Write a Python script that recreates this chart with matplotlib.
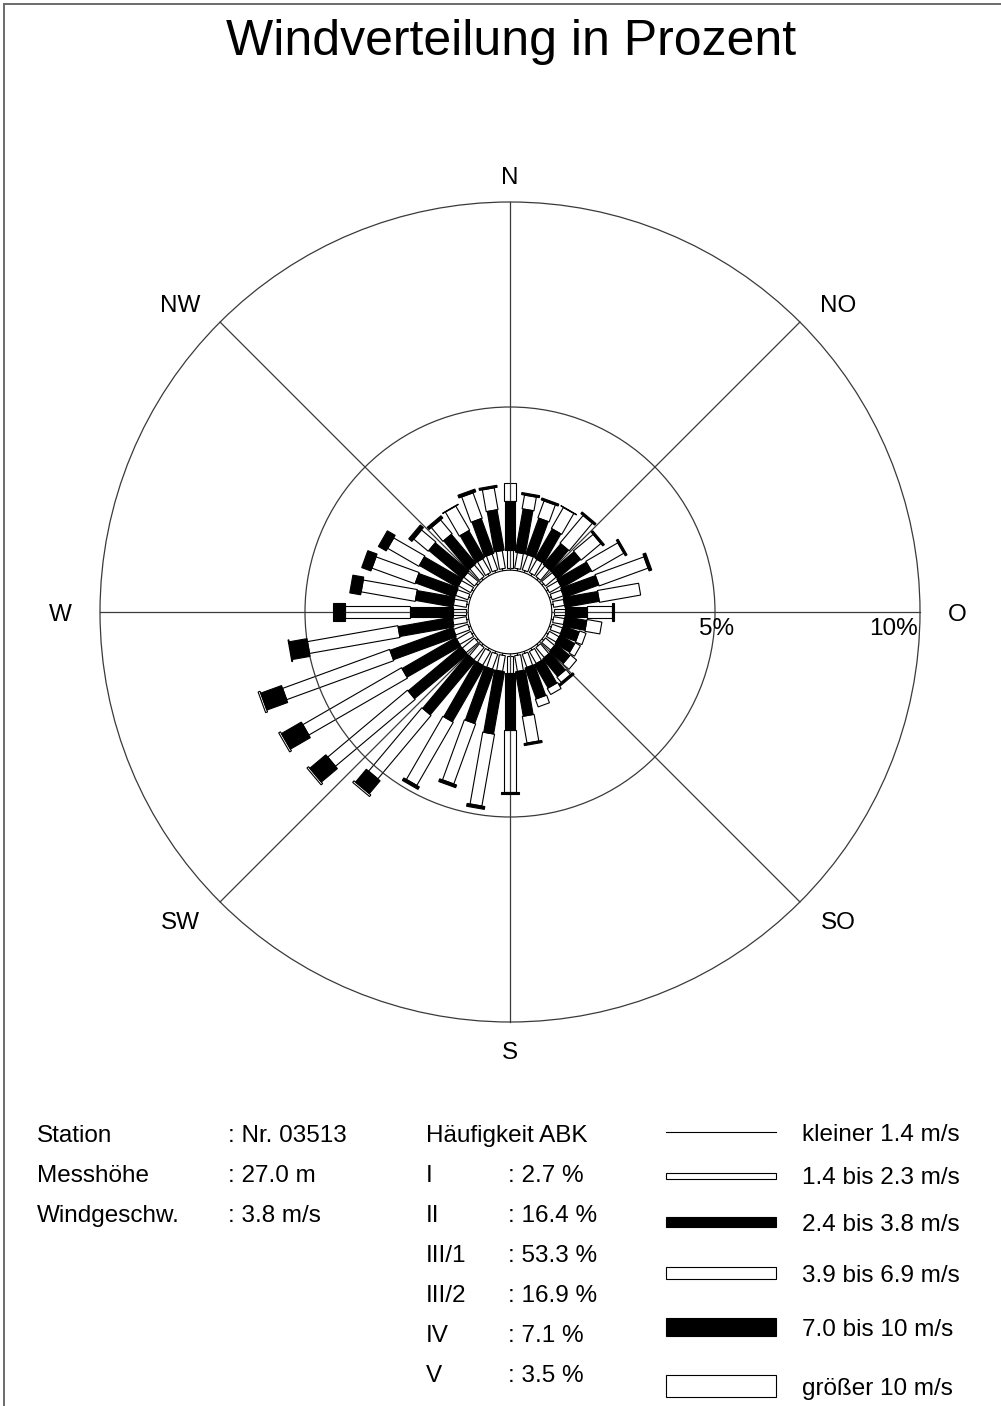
import matplotlib
matplotlib.use("Agg")
import matplotlib.pyplot as plt
from matplotlib.patches import Polygon, Circle, Rectangle
from matplotlib.lines import Line2D
import numpy as np

plt.rcParams['font.family'] = ['Liberation Sans', 'DejaVu Sans']

# ---------------------------------------------------------------- data
directions = list(range(0, 360, 10))          # degrees, clockwise from north
calm_pct = 1.02                               # radius of the calm circle (%)

# frequency (%) per direction and wind-speed class
speed_lt_1_4 = [0.05, 0.05, 0.05, 0.05, 0.05, 0.05, 0.05, 0.05, 0.05,
                0.05, 0.05, 0.05, 0.05, 0.05, 0.05, 0.05, 0.05, 0.05,
                0.05, 0.05, 0.05, 0.05, 0.05, 0.05, 0.05, 0.05, 0.05,
                0.05, 0.05, 0.05, 0.05, 0.05, 0.05, 0.05, 0.05, 0.05]
speed_1_4_2_3 = [0.44, 0.39, 0.39, 0.37, 0.34, 0.34, 0.32, 0.29, 0.27,
                 0.27, 0.27, 0.27, 0.27, 0.29, 0.32, 0.34, 0.34, 0.39,
                 0.41, 0.39, 0.39, 0.39, 0.39, 0.39, 0.39, 0.37, 0.34,
                 0.32, 0.32, 0.32, 0.34, 0.34, 0.37, 0.39, 0.41, 0.44]
speed_2_4_3_8 = [1.20, 1.07, 0.93, 0.83, 0.66, 0.73, 0.83, 0.90, 0.85,
                 0.54, 0.54, 0.41, 0.41, 0.44, 0.56, 0.66, 0.80, 1.10,
                 1.39, 1.54, 1.39, 1.56, 1.71, 1.68, 1.51, 1.63, 1.34,
                 1.05, 0.93, 1.02, 1.07, 1.07, 0.93, 0.76, 0.90, 1.00]
speed_3_9_6_9 = [0.44, 0.34, 0.44, 0.59, 0.88, 0.63, 0.90, 1.27, 1.02,
                 0.61, 0.37, 0.17, 0.15, 0.20, 0.17, 0.17, 0.20, 0.66,
                 1.51, 1.78, 1.56, 1.78, 2.02, 2.54, 2.78, 2.78, 2.24,
                 1.59, 1.34, 1.12, 0.88, 0.46, 0.44, 0.68, 0.66, 0.54]
speed_7_0_10 = [0.00, 0.05, 0.05, 0.01, 0.05, 0.05, 0.05, 0.07, 0.00,
                0.05, 0.00, 0.00, 0.00, 0.00, 0.05, 0.00, 0.00, 0.05,
                0.05, 0.07, 0.07, 0.07, 0.41, 0.51, 0.56, 0.54, 0.44,
                0.29, 0.27, 0.24, 0.22, 0.10, 0.07, 0.01, 0.07, 0.05]
speed_gt_10 = [0.00, 0.00, 0.00, 0.00, 0.00, 0.00, 0.00, 0.00, 0.00,
               0.00, 0.00, 0.00, 0.00, 0.00, 0.00, 0.00, 0.00, 0.00,
               0.00, 0.00, 0.00, 0.00, 0.05, 0.05, 0.05, 0.05, 0.02,
               0.00, 0.00, 0.00, 0.00, 0.00, 0.00, 0.00, 0.00, 0.00]

speed_classes = ["kleiner 1.4 m/s", "1.4 bis 2.3 m/s", "2.4 bis 3.8 m/s",
                 "3.9 bis 6.9 m/s", "7.0 bis 10 m/s", "größer 10 m/s"]
ring_values = [5, 10]
compass_labels = ["N", "NO", "O", "SO", "S", "SW", "W", "NW"]

station_keys = ["Station", "Messhöhe", "Windgeschw."]
station_values = [": Nr. 03513", ": 27.0 m", ": 3.8 m/s"]
abk_classes = ["I", "II", "III/1", "III/2", "IV", "V"]
abk_values = [2.7, 16.4, 53.3, 16.9, 7.1, 3.5]

# ---------------------------------------------------------------- figure
W, H = 1001, 1406
fig = plt.figure(figsize=(W / 100, H / 100), dpi=100)
fig.patch.set_facecolor("white")

PX = 41.0                 # pixels per percent
CX, CY = 510, 612         # rose centre in pixels
HALF = 490                # half size of rose axes in pixels
ax = fig.add_axes([(CX - HALF) / W, (H - CY - HALF) / H, 2 * HALF / W, 2 * HALF / H])
ax.set_xlim(-HALF / PX, HALF / PX)
ax.set_ylim(-HALF / PX, HALF / PX)
ax.set_aspect("equal")
ax.axis("off")

# bar widths (pixels) and fills for the speed classes
seg_width_px = [1, 6, 10, 12, 18, 22]
seg_fill = [None, "white", "black", "white", "black", "white"]
seg_z = [3, 2, 4, 2, 4, 2]
EDGE_LW = 0.8


def radial_box(theta_deg, r0, r1, width, face, z):
    t = np.deg2rad(theta_deg)
    u = np.array([np.sin(t), np.cos(t)])
    p = np.array([np.cos(t), -np.sin(t)])
    h = width / 2
    pts = [r0 * u - h * p, r1 * u - h * p, r1 * u + h * p, r0 * u + h * p]
    ax.add_patch(Polygon(pts, closed=True, facecolor=face, edgecolor="black",
                         linewidth=EDGE_LW, joinstyle="miter", zorder=z))


classes = [speed_lt_1_4, speed_1_4_2_3, speed_2_4_3_8,
           speed_3_9_6_9, speed_7_0_10, speed_gt_10]

for i, d in enumerate(directions):
    r = calm_pct
    for k, series in enumerate(classes):
        v = series[i]
        if v <= 0:
            continue
        r_end = r + v
        if seg_fill[k] is None:
            t = np.deg2rad(d)
            ax.plot([r * np.sin(t), r_end * np.sin(t)],
                    [r * np.cos(t), r_end * np.cos(t)],
                    color="black", lw=EDGE_LW, zorder=seg_z[k])
        else:
            radial_box(d, r, r_end, seg_width_px[k] / PX, seg_fill[k], seg_z[k])
        r = r_end

# rings and sector lines
GRID_C = "#3a3a3a"
for rv in ring_values:
    ax.add_patch(Circle((0, 0), rv, facecolor="none", edgecolor=GRID_C,
                        linewidth=0.9, zorder=3))
outer = max(ring_values)
for a in range(0, 360, 45):
    t = np.deg2rad(a)
    ax.plot([calm_pct * np.sin(t), outer * np.sin(t)],
            [calm_pct * np.cos(t), outer * np.cos(t)],
            color=GRID_C, lw=0.9, zorder=3)
ax.add_patch(Circle((0, 0), calm_pct, facecolor="white", edgecolor="black",
                    linewidth=EDGE_LW, zorder=6))

# ---------------------------------------------------------------- overlay (pixel coordinates)
ov = fig.add_axes([0, 0, 1, 1], zorder=5)
ov.set_xlim(0, W)
ov.set_ylim(H, 0)
ov.axis("off")
ov.patch.set_visible(False)

# frame
ov.add_line(Line2D([4, 4], [4, H], color="#6a6a6a", lw=1.4))
ov.add_line(Line2D([4, W], [4, 4], color="#6a6a6a", lw=1.4))

FS = 17.5
ov.text(511, 55, "Windverteilung in Prozent", fontsize=36, ha="center", va="baseline")

compass_pos = [(510, 175), (838, 303), (957, 612), (838, 920),
               (510, 1050), (180, 920), (60, 612), (180, 303)]
for lab, (x, y) in zip(compass_labels, compass_pos):
    ov.text(x, y + 9, lab, fontsize=FS, ha="center", va="baseline")

ov.text(717, 635, f"{ring_values[0]}%", fontsize=FS, ha="center", va="baseline")
ov.text(918, 635, f"{ring_values[1]}%", fontsize=FS, ha="right", va="baseline")

# station block
for j, (k, v) in enumerate(zip(station_keys, station_values)):
    y = 1133 + 40 * j + 9
    ov.text(37, y, k, fontsize=FS, ha="left", va="baseline")
    ov.text(228, y, v, fontsize=FS, ha="left", va="baseline")

# stability classes
ov.text(426, 1133 + 9, "Häufigkeit ABK", fontsize=FS, ha="left", va="baseline")
for j, (c, v) in enumerate(zip(abk_classes, abk_values)):
    y = 1173 + 40 * j + 9
    ov.text(426, y, c, fontsize=FS, ha="left", va="baseline")
    ov.text(508, y, f": {v:.1f} %", fontsize=FS, ha="left", va="baseline")

# speed legend
leg_y = [1132, 1175.5, 1222.3, 1272.8, 1327, 1386.3]
leg_h = [0, 6, 10, 12.3, 17.7, 22]
for lab, y, h, face in zip(speed_classes, leg_y, leg_h, seg_fill):
    if face is None:
        ov.add_line(Line2D([666, 776], [y, y], color="black", lw=EDGE_LW))
    else:
        ov.add_patch(Rectangle((666, y - h / 2), 110, h, facecolor=face,
                               edgecolor="black", linewidth=EDGE_LW))
    ov.text(802, y + 9, lab, fontsize=FS, ha="left", va="baseline")

fig.savefig("out.png", dpi=100, facecolor="white")
